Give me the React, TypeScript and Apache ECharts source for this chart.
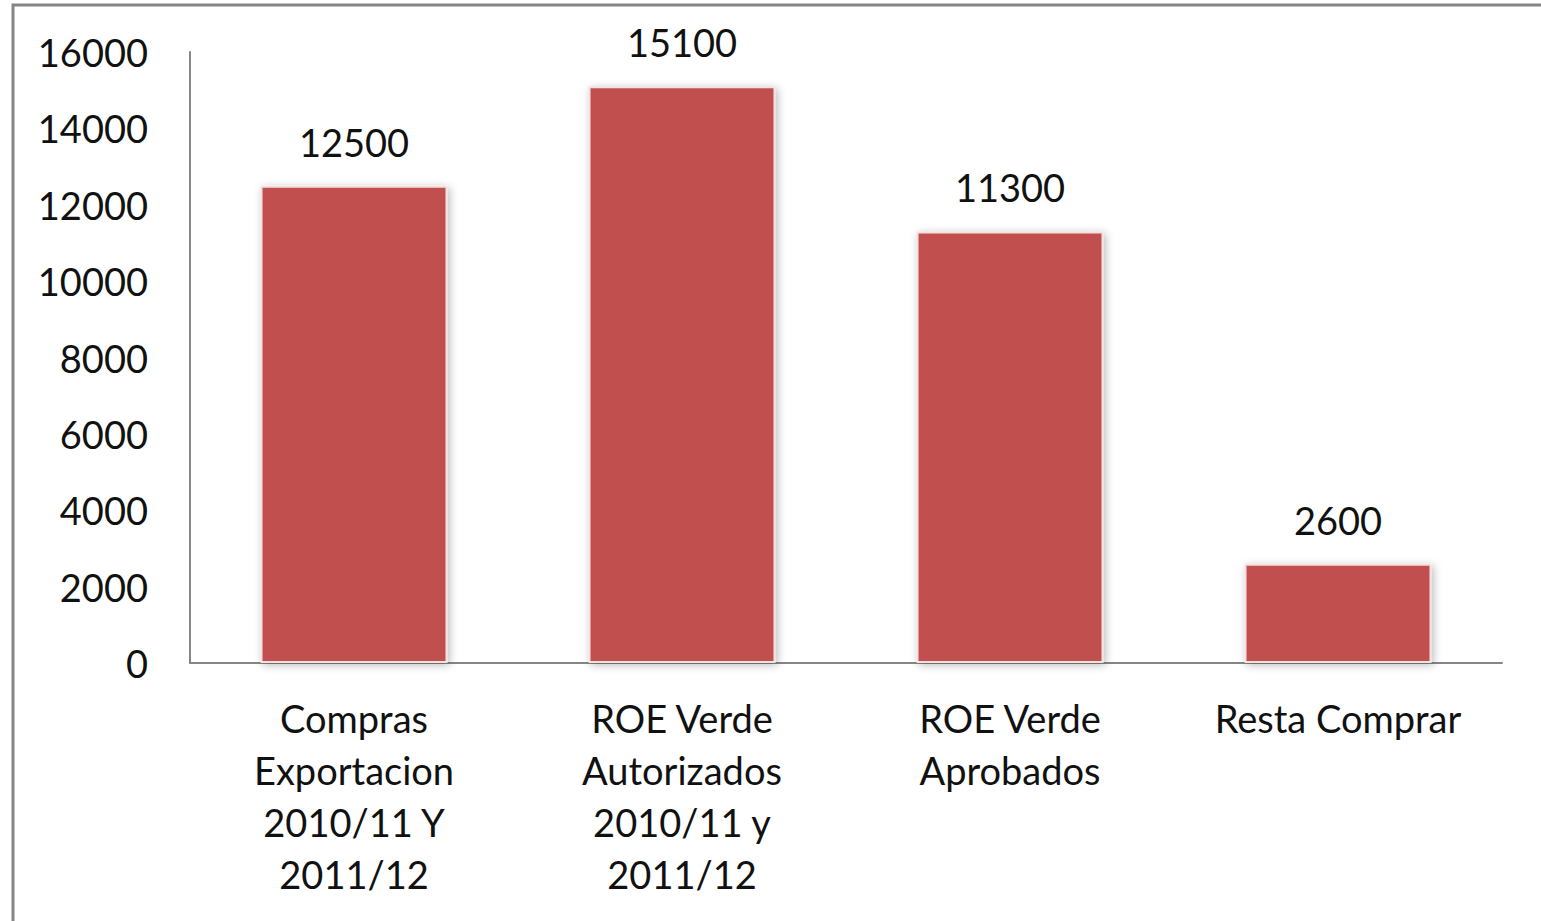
import React, { useEffect, useRef } from "react";
import * as echarts from "echarts";

const categories = [
  "Compras\nExportacion\n2010/11 Y\n2011/12",
  "ROE Verde\nAutorizados\n2010/11 y\n2011/12",
  "ROE Verde\nAprobados",
  "Resta Comprar",
];
const values = [12500, 15100, 11300, 2600];
const yMin = 0;
const yMax = 16000;
const yStep = 2000;

const FONT = "Lato, 'Open Sans', sans-serif";

export default function App() {
  const ref = useRef<HTMLDivElement>(null);
  useEffect(() => {
    if (!ref.current) return;
    const chart = echarts.init(ref.current, undefined, { renderer: "svg" });
    chart.setOption({
      animation: false,
      backgroundColor: "#ffffff",
      textStyle: { fontFamily: FONT },
      graphic: [
        {
          type: "rect",
          shape: { x: 13, y: 5, width: 1600, height: 1000 },
          style: { fill: "none", stroke: "#858585", lineWidth: 3 },
          silent: true,
        },
      ],
      grid: { left: 190, right: 39, top: 52, bottom: 258 },
      xAxis: {
        type: "category",
        data: categories,
        axisLine: { lineStyle: { color: "#868686", width: 2 } },
        axisTick: { show: false },
        axisLabel: {
          interval: 0,
          color: "#111111",
          fontSize: 38,
          lineHeight: 52,
          margin: 29,
          fontFamily: FONT,
        },
      },
      yAxis: {
        type: "value",
        min: yMin,
        max: yMax,
        interval: yStep,
        splitLine: { show: false },
        axisLine: { show: true, lineStyle: { color: "#868686", width: 2 } },
        axisTick: { show: false },
        axisLabel: {
          color: "#111111",
          fontSize: 38,
          margin: 42,
          fontFamily: FONT,
          formatter: (v: number) => String(v),
        },
      },
      series: [
        {
          type: "bar",
          data: values,
          barWidth: "57%",
          itemStyle: {
            color: "#C0504D",
            borderColor: "#f4e0df",
            borderWidth: 2,
            shadowBlur: 8,
            shadowColor: "rgba(0,0,0,0.28)",
            shadowOffsetX: 2,
            shadowOffsetY: 2,
          },
          label: {
            show: true,
            position: "top",
            distance: 25,
            color: "#111111",
            fontSize: 38,
            fontFamily: FONT,
          },
        },
      ],
    });
    return () => chart.dispose();
  }, []);
  return (
    <div
      ref={ref}
      style={{ position: "fixed", left: 0, top: 0, width: 1541, height: 921 }}
    />
  );
}
